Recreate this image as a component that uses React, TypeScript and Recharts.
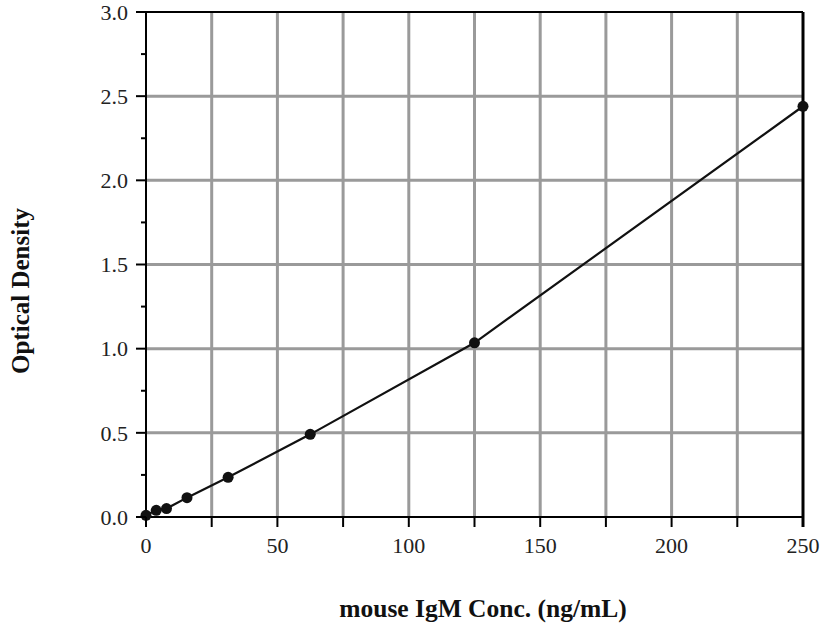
import React from 'react';
import { LineChart, Line, XAxis, YAxis, CartesianGrid, ReferenceLine, Label } from 'recharts';

const concentrations = [0, 3.9, 7.8, 15.6, 31.25, 62.5, 125, 250];
const opticalDensity = [0.01, 0.04, 0.05, 0.115, 0.236, 0.491, 1.035, 2.44];
const xTicks = [0, 25, 50, 75, 100, 125, 150, 175, 200, 225, 250];
const yTicks = [0, 0.25, 0.5, 0.75, 1, 1.25, 1.5, 1.75, 2, 2.25, 2.5, 2.75, 3];
const xGrid = [25, 50, 75, 100, 125, 150, 175, 200, 225];
const yGrid = [0.5, 1, 1.5, 2, 2.5];

const data = concentrations.map((c, i) => ({ conc: c, od: opticalDensity[i] }));

const FONT = '"Liberation Serif", "Times New Roman", serif';

const XTick = (props: any) => {
  const { x, y, payload } = props;
  const v = payload.value;
  return (
    <g>
      <line x1={x} x2={x} y1={y} y2={y + 10} stroke="#000" strokeWidth={v === 250 ? 3 : 2} />
      {v % 50 === 0 && (
        <text x={x} y={y + 36} textAnchor="middle" fontFamily={FONT} fontSize={22} fill="#222">
          {v}
        </text>
      )}
    </g>
  );
};

const YTick = (props: any) => {
  const { x, y, payload } = props;
  const v = payload.value;
  const major = Math.abs(v * 2 - Math.round(v * 2)) < 1e-6;
  return (
    <g>
      <line x1={x - (major ? 10 : 5)} x2={x} y1={y} y2={y} stroke="#000" strokeWidth={2} />
      {major && (
        <text x={x - 18} y={y} dy="0.35em" textAnchor="end" fontFamily={FONT} fontSize={22} fill="#222">
          {v.toFixed(1)}
        </text>
      )}
    </g>
  );
};

export default function App() {
  return (
    <div style={{ position: 'absolute', left: 0, top: 0, width: 820, height: 626, background: '#fff' }}>
      <LineChart
        width={820}
        height={626}
        data={data}
        margin={{ top: 12, right: 17, bottom: 0, left: 0 }}
      >
        <CartesianGrid
          stroke="#9a9a9a"
          strokeWidth={3}
          horizontalValues={yGrid}
          verticalValues={xGrid}
        />
        <XAxis
          dataKey="conc"
          type="number"
          domain={[0, 250]}
          ticks={xTicks}
          height={109}
          tickSize={0}
          tickMargin={0}
          tick={<XTick />}
          axisLine={{ stroke: '#000', strokeWidth: 2 }}
          tickLine={false}
          interval={0}
        >
          <Label
            content={() => (
              <text x={483} y={617} textAnchor="middle" fontFamily={FONT} fontWeight="bold" fontSize={25.5} fill="#111">
                mouse IgM Conc. (ng/mL)
              </text>
            )}
          />
        </XAxis>
        <YAxis
          type="number"
          domain={[0, 3]}
          ticks={yTicks}
          width={146}
          tickSize={0}
          tickMargin={0}
          tick={<YTick />}
          axisLine={{ stroke: '#000', strokeWidth: 2 }}
          tickLine={false}
          interval={0}
        >
          <Label
            content={() => (
              <text
                x={20}
                y={291}
                transform="rotate(-90 20 291)"
                textAnchor="middle"
                dominantBaseline="central"
                fontFamily={FONT}
                fontWeight="bold"
                fontSize={25}
                fill="#111"
              >
                Optical Density
              </text>
            )}
          />
        </YAxis>
        <ReferenceLine y={3} stroke="#000" strokeWidth={2} />
        <ReferenceLine x={250} stroke="#000" strokeWidth={3} />
        <Line
          dataKey="od"
          type="linear"
          stroke="#111"
          strokeWidth={2.2}
          dot={{ r: 5.5, fill: '#111', stroke: 'none' }}
          isAnimationActive={false}
        />
      </LineChart>
    </div>
  );
}
